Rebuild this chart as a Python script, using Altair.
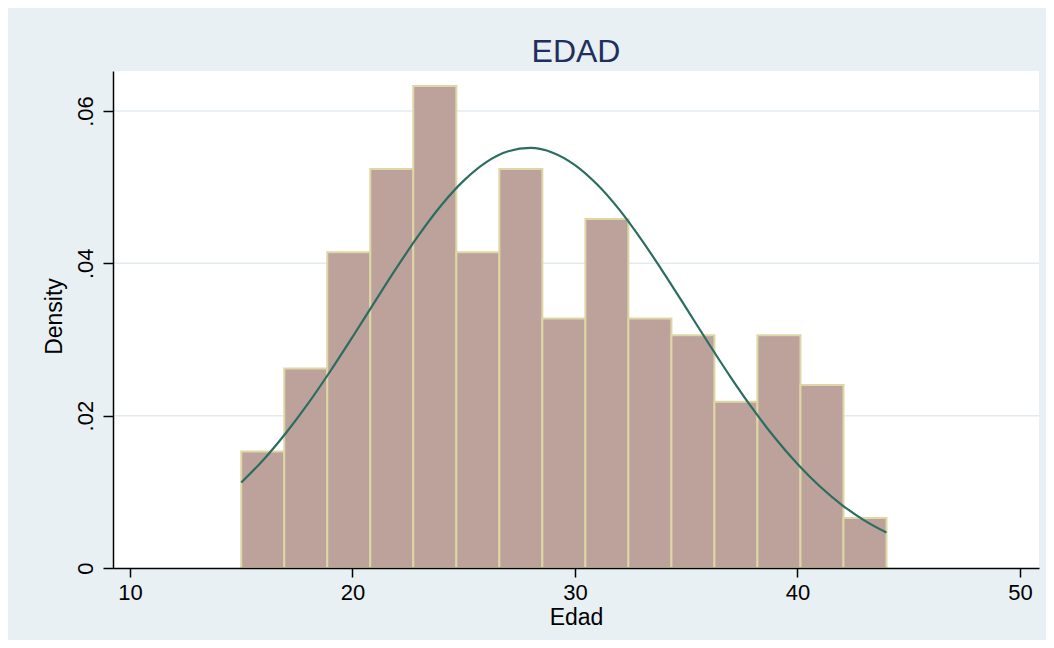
import altair as alt
import pandas as pd

# Histogram bins (Edad)
bin_edges = [15.0, 16.933, 18.867, 20.8, 22.733, 24.667, 26.6, 28.533,
             30.467, 32.4, 34.333, 36.267, 38.2, 40.133, 42.067, 44.0]
bin_density = [0.01528, 0.02619, 0.04147, 0.05238, 0.06329, 0.04147, 0.05238,
               0.03274, 0.04583, 0.03274, 0.03056, 0.02183, 0.03056, 0.02401,
               0.00655]

# Normal density overlay, read at whole ages
curve_x = [15, 16, 17, 18, 19, 20, 21, 22, 23, 24, 25, 26, 27, 28, 29,
           30, 31, 32, 33, 34, 35, 36, 37, 38, 39, 40, 41, 42, 43, 44]
curve_y = [0.01122, 0.01422, 0.01769, 0.02157, 0.02583, 0.03033, 0.03495,
           0.03950, 0.04380, 0.04766, 0.05086, 0.05326, 0.05471, 0.05515,
           0.05453, 0.05290, 0.05034, 0.04701, 0.04305, 0.03869, 0.03412,
           0.02951, 0.02504, 0.02085, 0.01703, 0.01365, 0.01073, 0.00827,
           0.00626, 0.00465]

x_ticks = [10, 20, 30, 40, 50]
y_ticks = [0, 0.02, 0.04, 0.06]
y_tick_labels = ["0", ".02", ".04", ".06"]
grid_values = [0.02, 0.04, 0.06]

bars = pd.DataFrame({
    "lo": bin_edges[:-1],
    "hi": bin_edges[1:],
    "density": bin_density,
})
curve = pd.DataFrame({"edad": curve_x, "dens": curve_y})
grid = pd.DataFrame({"g": grid_values})

FONT = "Liberation Sans"
x_scale = alt.Scale(domain=[9.236, 50.854], nice=False, zero=False)
y_scale = alt.Scale(domain=[0, 0.06525], nice=False, zero=False)

label_expr = "[" + ",".join("'%s'" % s for s in y_tick_labels) + "][round(datum.value / 0.02)]"

x_axis = alt.Axis(
    values=x_ticks, grid=False, title="Edad", labelFont=FONT, labelFontSize=22,
    labelColor="black", titleFont=FONT, titleFontSize=23, titleFontWeight="normal",
    titleColor="black", domainColor="black", domainWidth=1.5, tickColor="black",
    tickSize=9, tickWidth=1.5, labelPadding=22, labelBaseline="alphabetic",
    titleX=463, titleY=56, titleBaseline="alphabetic", titleAlign="center",
    labelFlush=False, labelOverlap=False, zindex=1,
)
y_axis = alt.Axis(
    values=y_ticks, grid=False, title="Density", labelExpr=label_expr,
    labelFont=FONT, labelFontSize=22, labelColor="black", labelAngle=270,
    labelAlign="center", labelBaseline="alphabetic", labelPadding=11,
    titleFont=FONT, titleFontSize=23, titleFontWeight="normal", titleColor="black",
    titleAngle=270, titleX=-52, titleY=245, titleAlign="center",
    titleBaseline="alphabetic", domainColor="black", domainWidth=1.5,
    tickColor="black", tickSize=10, tickWidth=1.5, labelFlush=False,
    labelOverlap=False, zindex=1,
)

grid_layer = alt.Chart(grid).mark_rule(color="#E3EBEF", strokeWidth=1.5).encode(
    y=alt.Y("g:Q", scale=y_scale, axis=y_axis)
)

bar_layer = alt.Chart(bars).mark_rect(
    fill="#BDA19B", stroke="#DDD7A5", strokeWidth=2
).encode(
    x=alt.X("lo:Q", scale=x_scale, axis=x_axis),
    x2="hi:Q",
    y=alt.Y("density:Q", scale=y_scale, axis=y_axis),
    y2=alt.datum(0),
)

line_layer = alt.Chart(curve).mark_line(
    color="#2B6E61", strokeWidth=2.2, interpolate="monotone"
).encode(
    x=alt.X("edad:Q", scale=x_scale, axis=x_axis),
    y=alt.Y("dens:Q", scale=y_scale, axis=y_axis),
)

chart = alt.layer(grid_layer, bar_layer, line_layer).properties(
    width=926,
    height=497,
    autosize=alt.AutoSizeParams(type="none"),
    padding={"left": 105, "top": 63, "right": 7, "bottom": 72},
    background="#E8F0F3",
    title=alt.TitleParams(
        "EDAD", font=FONT, fontSize=32, fontWeight="normal", color="#1F2F5E",
        anchor="middle", baseline="bottom", offset=4, dy=34,
    ),
).configure_view(fill="white", stroke=None)

chart.save("out.html", embed_options={"renderer": "svg", "actions": False})
